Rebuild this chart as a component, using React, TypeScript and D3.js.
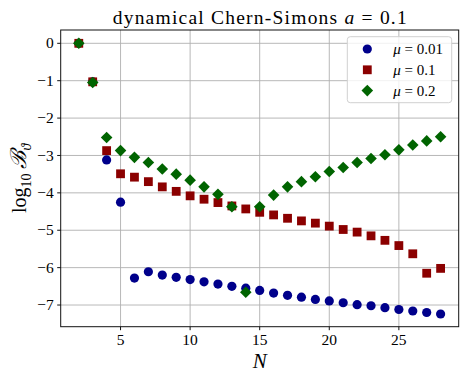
import { useEffect } from "react";
import * as d3 from "d3";

const nValues = [2, 3, 4, 5, 6, 7, 8, 9, 10, 11, 12, 13, 14, 15, 16, 17, 18, 19, 20, 21, 22, 23, 24, 25, 26, 27, 28];

// log10 B for mu = 0.01
const mu001 = [0, -1.03, -3.12, -4.25, -6.28, -6.11, -6.2, -6.26, -6.32, -6.38, -6.44, -6.5, -6.55, -6.61, -6.68, -6.74, -6.79, -6.85, -6.89, -6.94, -6.99, -7.02, -7.07, -7.12, -7.16, -7.2, -7.24];
// mu = 0.1
const mu01 = [0, -1.03, -2.87, -3.49, -3.58, -3.7, -3.84, -3.96, -4.08, -4.17, -4.26, -4.35, -4.43, -4.52, -4.59, -4.68, -4.75, -4.81, -4.89, -4.98, -5.05, -5.15, -5.27, -5.41, -5.63, -6.15, -6.02];
// mu = 0.2
const mu02 = [0, -1.05, -2.52, -2.87, -3.05, -3.19, -3.36, -3.5, -3.66, -3.84, -4.04, -4.37, -6.66, -4.37, -4.06, -3.84, -3.7, -3.57, -3.43, -3.32, -3.19, -3.08, -2.98, -2.85, -2.72, -2.61, -2.5];

const xTicks = [5, 10, 15, 20, 25];
const yTicks = [0, -1, -2, -3, -4, -5, -6, -7];
const seriesLabels = ["0.01", "0.1", "0.2"];

const W = 468;
const H = 382;
const margin = { top: 30, right: 9.3, bottom: 55.3, left: 60.7 };
const font = "'Liberation Serif', serif";

const colors = ["#00008b", "#8b0000", "#006400"];

function marker(kind: number, cx: number, cy: number, color: string, key: string) {
  if (kind === 0) return <circle key={key} cx={cx} cy={cy} r={4.6} fill={color} />;
  if (kind === 1) return <rect key={key} x={cx - 4.4} y={cy - 4.4} width={8.8} height={8.8} fill={color} />;
  const d = 5.8;
  return <path key={key} d={`M${cx},${cy - d}L${cx + d},${cy}L${cx},${cy + d}L${cx - d},${cy}Z`} fill={color} />;
}

export default function App() {
  useEffect(() => {
    document.body.style.margin = "0";
  }, []);

  const x = d3.scaleLinear().domain([0.7, 29.3]).range([margin.left, W - margin.right]);
  const y = d3.scaleLinear().domain([-7.58, 0.356]).range([H - margin.bottom, margin.top]);
  const series = [mu001, mu01, mu02];
  const [x0, x1] = x.range();
  const [y0, y1] = y.range();

  return (
    <svg width={W} height={H} style={{ display: "block", background: "#fff" }} fontFamily={font}>
      {/* grid */}
      {xTicks.map((t) => (
        <line key={"gx" + t} x1={x(t)} x2={x(t)} y1={y1} y2={y0} stroke="#b0b0b0" strokeWidth={0.9} />
      ))}
      {yTicks.map((t) => (
        <line key={"gy" + t} x1={x0} x2={x1} y1={y(t)} y2={y(t)} stroke="#b0b0b0" strokeWidth={0.9} />
      ))}

      {/* points */}
      {series.map((vals, si) =>
        vals.map((v, i) => marker(si, x(nValues[i]), y(v), colors[si], `p${si}-${i}`))
      )}

      {/* frame */}
      <rect x={x0} y={y1} width={x1 - x0} height={y0 - y1} fill="none" stroke="#111" strokeWidth={1} />

      {/* ticks */}
      {xTicks.map((t) => (
        <g key={"tx" + t}>
          <line x1={x(t)} x2={x(t)} y1={y0} y2={y0 + 3.5} stroke="#111" />
          <text x={x(t)} y={y0 + 18} textAnchor="middle" fontSize={15.5}>{t}</text>
        </g>
      ))}
      {yTicks.map((t) => (
        <g key={"ty" + t}>
          <line x1={x0 - 3.5} x2={x0} y1={y(t)} y2={y(t)} stroke="#111" />
          <text x={x0 - 7} y={y(t)} dy="0.33em" textAnchor="end" fontSize={15.5}>
            {t < 0 ? "\u2212" + Math.abs(t) : t}
          </text>
        </g>
      ))}

      {/* title */}
      <text x={(x0 + x1) / 2} y={24} textAnchor="middle" fontSize={19.5} textLength={294} lengthAdjust="spacing">
        dynamical Chern-Simons <tspan fontStyle="italic">a</tspan> = 0.1
      </text>

      {/* axis labels */}
      <text x={(x0 + x1) / 2} y={368} textAnchor="middle" fontSize={21} fontStyle="italic">N</text>
      <text transform={`translate(26,${(y0 + y1) / 2}) rotate(-90)`} textAnchor="middle" fontSize={20}>
        log<tspan fontSize={14} dy={5}>10</tspan>
        <tspan dy={-5}> </tspan>
        <tspan fontStyle="italic" fontSize={22}>ℬ</tspan>
        <tspan fontSize={14} dy={5} fontStyle="italic">ϑ</tspan>
      </text>

      {/* legend */}
      <rect x={347.3} y={36.7} width={104.4} height={66} rx={3} fill="#fff" fillOpacity={0.8} stroke="#d0d0d0" strokeWidth={1} />
      {seriesLabels.map((lab, i) => {
        const ly = 49 + i * 20.8;
        return (
          <g key={"lg" + i}>
            {marker(i, 367.3, ly, colors[i], "lm" + i)}
            <text x={393.3} y={ly} dy="0.35em" fontSize={15}>
              <tspan fontStyle="italic">μ</tspan> = {lab}
            </text>
          </g>
        );
      })}
    </svg>
  );
}
